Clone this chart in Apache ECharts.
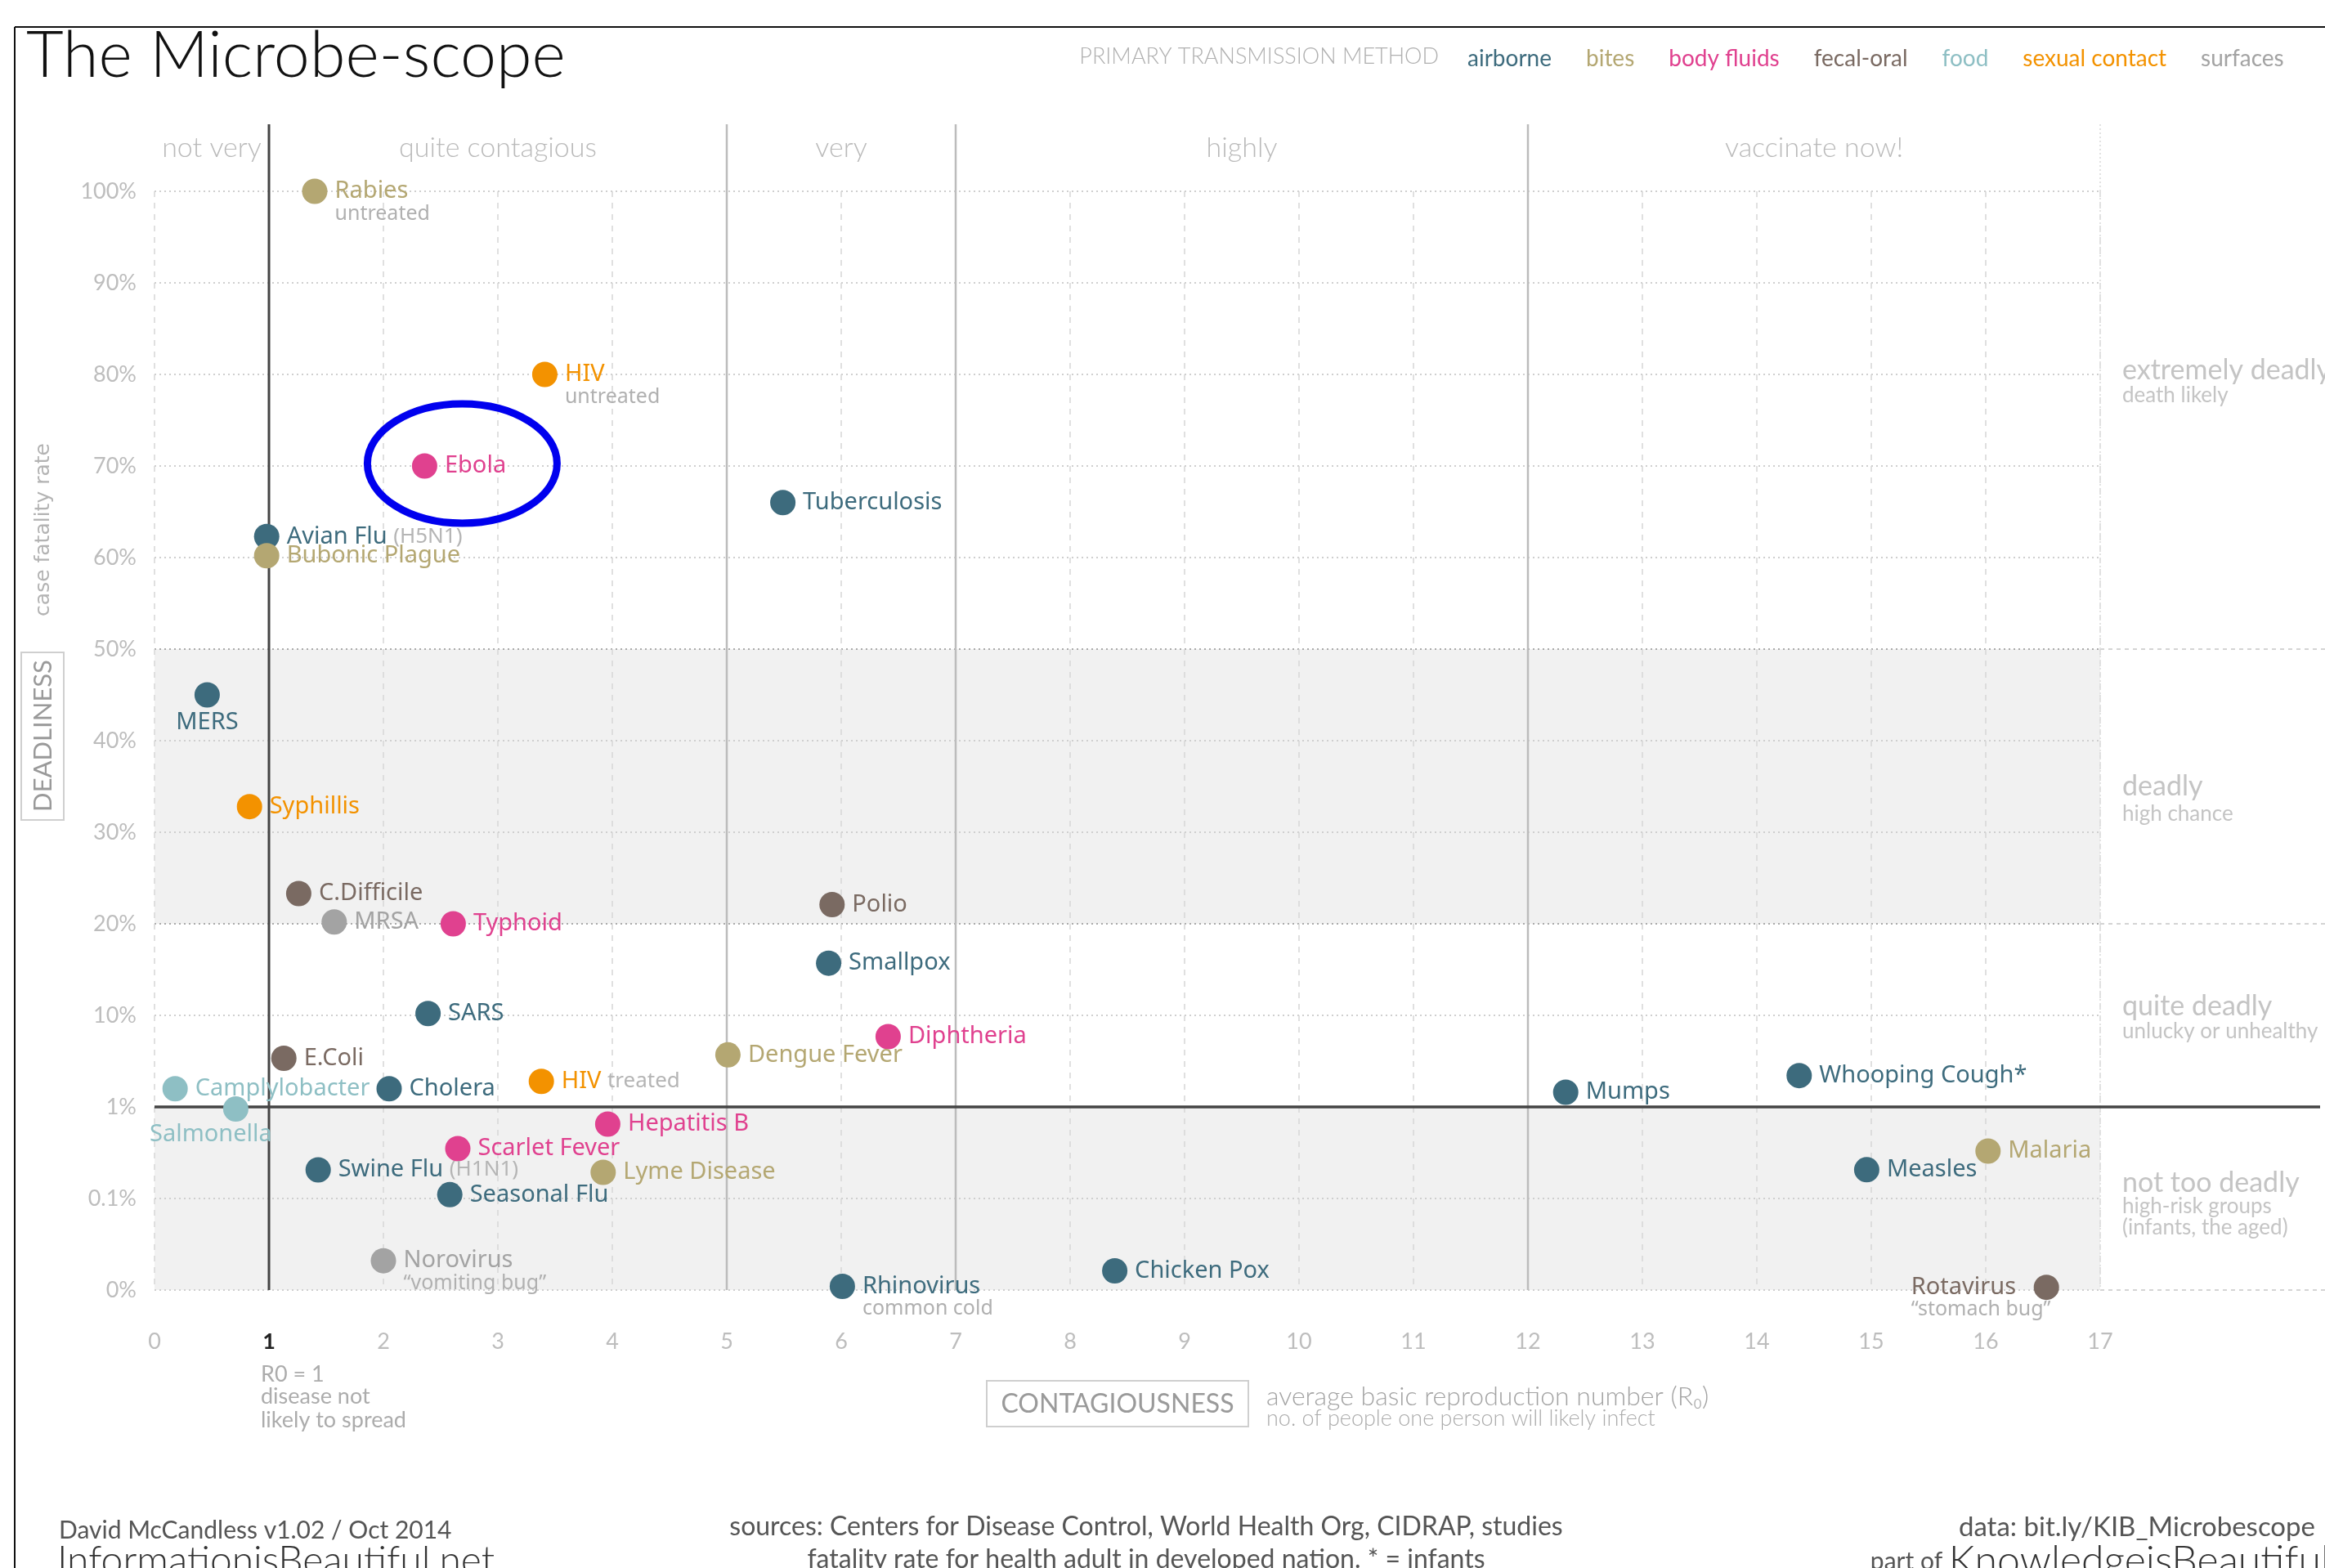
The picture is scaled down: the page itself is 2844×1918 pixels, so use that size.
<!DOCTYPE html>
<html lang="en">
<head>
<meta charset="UTF-8">
<title>The Microbe-scope</title>
<script src="https://cdn.jsdelivr.net/npm/echarts@6/dist/echarts.min.js"></script>
<style>
  html, body { margin: 0; padding: 0; background: #fff; overflow: hidden; }
  #main { width: 2844px; height: 1918px; }
</style>
</head>
<body>
<div id="main"></div>
<script>
// diseases, values
var names = ['Rabies', 'HIV', 'Ebola', 'Tuberculosis', 'Avian Flu', 'Bubonic Plague', 'MERS', 'Syphillis',
  'C.Difficile', 'MRSA', 'Typhoid', 'Polio', 'Smallpox', 'SARS', 'Diphtheria', 'Dengue Fever', 'E.Coli',
  'Camplylobacter', 'Cholera', 'HIV', 'Salmonella', 'Mumps', 'Whooping Cough*', 'Hepatitis B', 'Scarlet Fever',
  'Swine Flu', 'Lyme Disease', 'Seasonal Flu', 'Malaria', 'Measles', 'Norovirus', 'Rhinovirus', 'Chicken Pox', 'Rotavirus'];
// average basic reproduction number
var r0 = [1.40, 3.41, 2.36, 5.49, 0.98, 0.98, 0.46, 0.83,
  1.26, 1.57, 2.61, 5.92, 5.89, 2.39, 6.41, 5.01, 1.13,
  0.18, 2.05, 3.38, 0.71, 12.33, 14.37, 3.96, 2.65,
  1.43, 3.92, 2.58, 16.02, 14.96, 2.0, 6.01, 8.39, 16.53];
// case fatality rate, %
var fatality = [100, 80, 70, 66, 62.3, 60.2, 45, 32.8,
  23.3, 20.2, 20, 22.1, 15.7, 10.2, 5.85, 3.7, 3.4,
  1.58, 1.58, 1.9, 0.95, 1.45, 2.2, 0.65, 0.35,
  0.205, 0.193, 0.11, 0.33, 0.206, 0.032, 0.004, 0.021, 0.003];
var method = ['bites', 'sexual contact', 'body fluids', 'airborne', 'airborne', 'bites', 'airborne', 'sexual contact',
  'fecal-oral', 'surfaces', 'body fluids', 'fecal-oral', 'airborne', 'airborne', 'body fluids', 'bites', 'fecal-oral',
  'food', 'airborne', 'sexual contact', 'food', 'airborne', 'airborne', 'body fluids', 'body fluids',
  'airborne', 'bites', 'airborne', 'bites', 'airborne', 'surfaces', 'airborne', 'airborne', 'fecal-oral'];
var notes = ['untreated', 'untreated', '', '', '(H5N1)', '', '', '',
  '', '', '', '', '', '', '', '', '',
  '', '', 'treated', '', '', '', '', '',
  '(H1N1)', '', '', '', '', '\u201cvomiting bug\u201d', 'common cold', '', '\u201cstomach bug\u201d'];

var methods = ['airborne', 'bites', 'body fluids', 'fecal-oral', 'food', 'sexual contact', 'surfaces'];
var methodColors = ['#3d6b7d', '#b4a772', '#e0418f', '#7a6a62', '#8ebfc4', '#f39200', '#a3a3a3'];

var yTickLabels = ['0%', '0.1%', '1%', '10%', '20%', '30%', '40%', '50%', '60%', '70%', '80%', '90%', '100%'];
var contagionEdges = [0, 1, 5, 7, 12, 17];
var contagionNames = ['not very', 'quite contagious', 'very', 'highly', 'vaccinate now!'];

// deadliness axis: linear 0-0.1%, log 0.1%-10%, linear 10%-100%
function deadlinessPos(rate) {
  if (rate <= 0.1) return rate / 0.1;
  if (rate <= 10) return 1 + Math.log10(rate / 0.1);
  return 3 + (rate - 10) / 10;
}

var DOT = 31;
var belowNotes = ['untreated', '\u201cvomiting bug\u201d', 'common cold', '\u201cstomach bug\u201d'];

function makeLabel(i, color) {
  var note = notes[i];
  var rich = {
    n: { color: color, fontSize: 29, fontFamily: 'Noto Sans', lineHeight: DOT },
    s: { color: '#b0b0b0', fontSize: 25, fontFamily: 'Noto Sans', lineHeight: 24 },
    si: { color: '#b5b5b5', fontSize: 26, fontFamily: 'Noto Sans' }
  };
  var lab = { show: true, rich: rich, position: 'right', distance: 9 };
  if (note && belowNotes.indexOf(note) >= 0) {
    lab.formatter = '{n|' + names[i] + '}\n{s|' + note + '}';
    lab.position = [DOT + 9, 0];
    lab.align = 'left';
    lab.verticalAlign = 'top';
  } else if (note) {
    lab.formatter = '{n|' + names[i] + ' }{si|' + note + '}';
  } else {
    lab.formatter = '{n|' + names[i] + '}';
  }
  if (names[i] === 'MERS') {
    lab.position = 'bottom';
    lab.distance = 3;
  } else if (names[i] === 'Salmonella') {
    lab.position = [-15, 31];
    lab.align = 'center';
    lab.verticalAlign = 'top';
  } else if (names[i] === 'Rotavirus') {
    lab.position = [-150, 0];
    lab.align = 'left';
    lab.verticalAlign = 'top';
  }
  return lab;
}

var series = methods.map(function (m, k) {
  var data = [];
  for (var i = 0; i < names.length; i++) {
    if (method[i] !== m) continue;
    data.push({
      name: names[i],
      value: [r0[i], deadlinessPos(fatality[i])],
      label: makeLabel(i, methodColors[k])
    });
  }
  return {
    name: m,
    type: 'scatter',
    symbol: 'circle',
    symbolSize: DOT,
    itemStyle: { color: methodColors[k], opacity: 1 },
    emphasis: { disabled: true },
    z: 5,
    data: data
  };
});

var yLineColors = yTickLabels.map(function (t) {
  return (t === '20%' || t === '50%') ? '#aaaaaa' : '#cfcfcf';
});

var myChart = echarts.init(document.getElementById('main'));
var option = {
  animation: false,
  backgroundColor: '#fff',
  title: {
    text: 'The Microbe-scope',
    left: 27, top: 24,
    textStyle: { fontSize: 79, fontWeight: 300, fontFamily: 'Lato', color: '#111' }
  },
  legend: {
    left: 1785, top: 53,
    icon: 'rect', itemWidth: 0, itemHeight: 0, itemGap: 37,
    selectedMode: false,
    textStyle: { fontSize: 28, fontFamily: 'Lato' },
    data: methods.map(function (m, k) {
      return { name: m, textStyle: { color: methodColors[k], fontSize: 28, fontFamily: 'Lato' } };
    })
  },
  grid: { left: 189, right: 275, top: 234, bottom: 340, containLabel: false },
  xAxis: {
    type: 'value', min: 0, max: 17, interval: 1,
    axisLine: { show: false }, axisTick: { show: false },
    axisLabel: {
      margin: 50, fontSize: 27, color: '#bdbdbd', fontFamily: 'Lato',
      formatter: function (v) { return v === 1 ? '{b|1}' : String(v); },
      rich: { b: { fontSize: 27, color: '#222', fontWeight: 'bold', fontFamily: 'Lato' } }
    },
    splitLine: { show: true, lineStyle: { type: [7, 7], color: '#d6d6d6', width: 1.5 } }
  },
  yAxis: {
    type: 'value', min: 0, max: 12, interval: 1,
    axisLine: { show: false }, axisTick: { show: false },
    axisLabel: {
      margin: 22, fontSize: 27, color: '#bdbdbd', fontFamily: 'Lato',
      formatter: function (v) { return yTickLabels[v] || ''; }
    },
    splitLine: { show: true, lineStyle: { type: [2, 4], color: yLineColors, width: 2 } }
  },
  series: series
};
myChart.setOption(option);

function px(x, y) { return myChart.convertToPixel({ gridIndex: 0 }, [x, y]); }

var g = [];
var pMin = px(0, 0), pMax = px(17, 12);
var xL = pMin[0], xR = pMax[0], yB = pMin[1], yT = pMax[1];
var dividerTop = yT - 82;

function txt(text, x, y, size, color, family, align, weight, extra) {
  var el = {
    type: 'text', silent: true, z: 3,
    style: {
      text: text, x: x, y: y, fill: color,
      fontSize: size, fontFamily: family || 'Lato', fontWeight: weight || 'normal',
      align: align || 'left', textAlign: align || 'left',
      verticalAlign: 'middle', textVerticalAlign: 'middle'
    }
  };
  if (extra) for (var k in extra) el[k] = extra[k];
  return el;
}

// frame
g.push({ type: 'line', silent: true, shape: { x1: 18, y1: 33, x2: 2844, y2: 33 }, style: { stroke: '#111', lineWidth: 2 } });
g.push({ type: 'line', silent: true, shape: { x1: 18, y1: 33, x2: 18, y2: 1918 }, style: { stroke: '#111', lineWidth: 2 } });

// shaded deadliness bands: 0-1% and 20-50%
[[0, 1], [20, 50]].forEach(function (b) {
  var y1 = px(0, deadlinessPos(b[1]))[1], y2 = px(0, deadlinessPos(b[0]))[1];
  g.push({ type: 'rect', silent: true, z: -10, shape: { x: xL, y: y1, width: xR - xL, height: y2 - y1 }, style: { fill: '#f1f1f1' } });
});

// dashed extensions of band edges to the right
[0, 20, 50].forEach(function (r) {
  var y = px(0, deadlinessPos(r))[1];
  g.push({ type: 'line', silent: true, z: 1, shape: { x1: xR, y1: y, x2: 2844, y2: y }, style: { stroke: '#d4d4d4', lineWidth: 2, lineDash: [5, 5] } });
});

// contagiousness dividers
contagionEdges.forEach(function (e) {
  if (e === 0) return;
  var x = px(e, 0)[0];
  var st;
  if (e === 1) st = { stroke: '#444', lineWidth: 3 };
  else if (e === 17) st = { stroke: '#e2e2e2', lineWidth: 2, lineDash: [2, 3] };
  else st = { stroke: '#bcbcbc', lineWidth: 2.5 };
  g.push({ type: 'line', silent: true, z: 1, shape: { x1: x, y1: dividerTop, x2: x, y2: yB }, style: st });
});
contagionNames.forEach(function (n, k) {
  var mid = (contagionEdges[k] + contagionEdges[k + 1]) / 2;
  g.push(txt(n, px(mid, 0)[0], 181, 34, '#bababa', 'Lato', 'center', 300));
});

// R0 = 1% horizontal line
var y1pct = px(0, deadlinessPos(1))[1];
g.push({ type: 'line', silent: true, z: 1, shape: { x1: xL, y1: y1pct, x2: 2838, y2: y1pct }, style: { stroke: '#444', lineWidth: 3.5 } });

// Ebola highlight
var pe = px(r0[2], deadlinessPos(fatality[2]));
g.push({ type: 'ellipse', silent: true, z: 10, shape: { cx: pe[0] + 46, cy: pe[1] - 3, rx: 116, ry: 73 }, style: { fill: 'none', stroke: '#0000ee', lineWidth: 9 } });

// deadliness zone labels
var zoneX = 2596, zc = '#c4c4c4';
g.push(txt('extremely deadly', zoneX, 453, 34, zc, 'Lato'));
g.push(txt('death likely', zoneX, 484, 26, zc, 'Lato'));
g.push(txt('deadly', zoneX, 962, 34, zc, 'Lato'));
g.push(txt('high chance', zoneX, 996, 26, zc, 'Lato'));
g.push(txt('quite deadly', zoneX, 1231, 34, zc, 'Lato'));
g.push(txt('unlucky or unhealthy', zoneX, 1262, 26, zc, 'Lato'));
g.push(txt('not too deadly', zoneX, 1447, 34, zc, 'Lato'));
g.push(txt('high-risk groups', zoneX, 1476, 26, zc, 'Lato'));
g.push(txt('(infants, the aged)', zoneX, 1502, 26, zc, 'Lato'));

// legend heading
g.push(txt('PRIMARY TRANSMISSION METHOD', 1760, 69, 27, '#b0b0b0', 'Lato', 'right', 300));

// y axis titles
g.push(txt('case fatality rate', 0, 0, 25, '#b3b3b3', 'DejaVu Sans', 'center', 'normal', { x: 53, y: 648, rotation: Math.PI / 2 }));
g.push({ type: 'rect', silent: true, shape: { x: 26, y: 798, width: 52, height: 205 }, style: { fill: 'none', stroke: '#cfcfcf', lineWidth: 2 } });
g.push(txt('DEADLINESS', 0, 0, 31, '#9a9a9a', 'Lato', 'center', 'normal', { x: 53, y: 900, rotation: Math.PI / 2 }));

// x axis titles
var r1x = px(1, 0)[0] - 10;
g.push(txt('R0 = 1', r1x, 1681, 27, '#acacac', 'Lato'));
g.push(txt('disease not', r1x, 1708, 27, '#acacac', 'Lato'));
g.push(txt('likely to spread', r1x, 1737, 27, '#acacac', 'Lato'));
g.push({ type: 'rect', silent: true, shape: { x: 1207, y: 1689, width: 320, height: 56 }, style: { fill: 'none', stroke: '#cfcfcf', lineWidth: 2 } });
g.push(txt('CONTAGIOUSNESS', 1367, 1718, 32, '#9a9a9a', 'Lato', 'center'));
g.push(txt('average basic reproduction number (R\u2080)', 1549, 1709, 32, '#a3a3a3', 'Lato', 'left', 300));
g.push(txt('no. of people one person will likely infect', 1549, 1735, 27, '#acacac', 'Lato', 'left', 300));

// footer
g.push(txt('David McCandless v1.02 / Oct 2014', 72, 1872, 30, '#555', 'Lato'));
g.push(txt('InformationisBeautiful.net', 70, 1910, 48, '#333', 'Lato', 'left', 300));
g.push(txt('sources: Centers for Disease Control, World Health Org, CIDRAP, studies', 1402, 1868, 32, '#555', 'Lato', 'center'));
g.push(txt('fatality rate for health adult in developed nation. * = infants', 1402, 1908, 32, '#555', 'Lato', 'center'));
g.push(txt('data: bit.ly/KIB_Microbescope', 2832, 1868, 33, '#555', 'Lato', 'right'));
g.push({
  type: 'text', silent: true, z: 3,
  style: {
    text: '{a|part of }{b|KnowledgeisBeautiful}', x: 2850, y: 1910,
    align: 'right', textAlign: 'right', verticalAlign: 'middle', textVerticalAlign: 'middle',
    rich: {
      a: { fontSize: 30, fontFamily: 'Lato', fill: '#555', color: '#555' },
      b: { fontSize: 50, fontFamily: 'Lato', fontWeight: 300, fill: '#333', color: '#333' }
    }
  }
});

myChart.setOption({ graphic: { elements: g } });
</script>
</body>
</html>
